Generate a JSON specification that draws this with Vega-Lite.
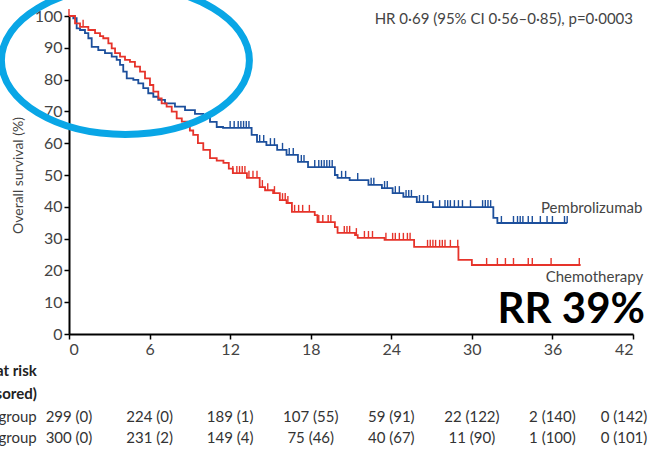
{
  "$schema": "https://vega.github.io/schema/vega-lite/v6.json",
  "width": 564,
  "height": 318,
  "autosize": {"type": "none"},
  "padding": {"left": 69, "top": 16, "right": 25, "bottom": 115},
  "background": "white",
  "config": {
    "view": {"stroke": null},
    "font": "Lato",
    "axis": {
      "domainColor": "#000000",
      "domainWidth": 2,
      "tickColor": "#000000",
      "tickWidth": 1.5,
      "tickSize": 5,
      "labelFont": "Lato",
      "labelFontSize": 16,
      "labelColor": "#444444",
      "labelOverlap": false,
      "grid": false,
      "titleFont": "Lato",
      "titleFontSize": 14,
      "titleFontWeight": "normal",
      "titleColor": "#444444"
    }
  },
  "datasets": {
    "curves": [
      {"arm": "Pembrolizumab", "time": 0, "surv": 100},
      {"arm": "Pembrolizumab", "time": 0.32, "surv": 99.3},
      {"arm": "Pembrolizumab", "time": 0.57, "surv": 96.1},
      {"arm": "Pembrolizumab", "time": 0.82, "surv": 95.6},
      {"arm": "Pembrolizumab", "time": 1.19, "surv": 94.6},
      {"arm": "Pembrolizumab", "time": 1.44, "surv": 93.0},
      {"arm": "Pembrolizumab", "time": 1.69, "surv": 90.3},
      {"arm": "Pembrolizumab", "time": 2.18, "surv": 89.3},
      {"arm": "Pembrolizumab", "time": 2.68, "surv": 88.3},
      {"arm": "Pembrolizumab", "time": 3.18, "surv": 87.2},
      {"arm": "Pembrolizumab", "time": 3.55, "surv": 86.2},
      {"arm": "Pembrolizumab", "time": 3.8, "surv": 84.6},
      {"arm": "Pembrolizumab", "time": 4.04, "surv": 82.5},
      {"arm": "Pembrolizumab", "time": 4.3, "surv": 80.4},
      {"arm": "Pembrolizumab", "time": 4.79, "surv": 79.9},
      {"arm": "Pembrolizumab", "time": 5.16, "surv": 78.8},
      {"arm": "Pembrolizumab", "time": 5.53, "surv": 77.3},
      {"arm": "Pembrolizumab", "time": 5.9, "surv": 75.7},
      {"arm": "Pembrolizumab", "time": 6.28, "surv": 74.6},
      {"arm": "Pembrolizumab", "time": 6.65, "surv": 73.6},
      {"arm": "Pembrolizumab", "time": 7.15, "surv": 72.5},
      {"arm": "Pembrolizumab", "time": 7.89, "surv": 71.5},
      {"arm": "Pembrolizumab", "time": 8.64, "surv": 70.4},
      {"arm": "Pembrolizumab", "time": 9.38, "surv": 69.2},
      {"arm": "Pembrolizumab", "time": 10.0, "surv": 68.0},
      {"arm": "Pembrolizumab", "time": 10.5, "surv": 66.7},
      {"arm": "Pembrolizumab", "time": 11.0, "surv": 65.1},
      {"arm": "Pembrolizumab", "time": 11.47, "surv": 64.8},
      {"arm": "Pembrolizumab", "time": 13.6, "surv": 62.6},
      {"arm": "Pembrolizumab", "time": 14.0, "surv": 60.4},
      {"arm": "Pembrolizumab", "time": 14.7, "surv": 59.4},
      {"arm": "Pembrolizumab", "time": 15.5, "surv": 57.9},
      {"arm": "Pembrolizumab", "time": 16.2, "surv": 56.3},
      {"arm": "Pembrolizumab", "time": 17.05, "surv": 54.1},
      {"arm": "Pembrolizumab", "time": 17.8, "surv": 52.5},
      {"arm": "Pembrolizumab", "time": 19.8, "surv": 50.0},
      {"arm": "Pembrolizumab", "time": 20.0, "surv": 49.1},
      {"arm": "Pembrolizumab", "time": 20.9, "surv": 48.4},
      {"arm": "Pembrolizumab", "time": 22.3, "surv": 46.9},
      {"arm": "Pembrolizumab", "time": 23.3, "surv": 45.9},
      {"arm": "Pembrolizumab", "time": 24.1, "surv": 44.3},
      {"arm": "Pembrolizumab", "time": 24.9, "surv": 43.1},
      {"arm": "Pembrolizumab", "time": 25.9, "surv": 41.5},
      {"arm": "Pembrolizumab", "time": 27.1, "surv": 39.9},
      {"arm": "Pembrolizumab", "time": 31.6, "surv": 36.5},
      {"arm": "Pembrolizumab", "time": 31.9, "surv": 34.9},
      {"arm": "Pembrolizumab", "time": 37.1, "surv": 34.9},
      {"arm": "Chemotherapy", "time": 0, "surv": 100},
      {"arm": "Chemotherapy", "time": 0.45, "surv": 97.7},
      {"arm": "Chemotherapy", "time": 0.82, "surv": 96.6},
      {"arm": "Chemotherapy", "time": 1.44, "surv": 95.6},
      {"arm": "Chemotherapy", "time": 1.94, "surv": 94.6},
      {"arm": "Chemotherapy", "time": 2.31, "surv": 93.7},
      {"arm": "Chemotherapy", "time": 2.55, "surv": 93.0},
      {"arm": "Chemotherapy", "time": 2.93, "surv": 91.4},
      {"arm": "Chemotherapy", "time": 3.18, "surv": 89.8},
      {"arm": "Chemotherapy", "time": 3.43, "surv": 88.3},
      {"arm": "Chemotherapy", "time": 3.8, "surv": 87.2},
      {"arm": "Chemotherapy", "time": 4.17, "surv": 86.2},
      {"arm": "Chemotherapy", "time": 4.54, "surv": 85.6},
      {"arm": "Chemotherapy", "time": 4.91, "surv": 84.1},
      {"arm": "Chemotherapy", "time": 5.29, "surv": 82.5},
      {"arm": "Chemotherapy", "time": 5.66, "surv": 80.4},
      {"arm": "Chemotherapy", "time": 6.03, "surv": 78.3},
      {"arm": "Chemotherapy", "time": 6.28, "surv": 76.2},
      {"arm": "Chemotherapy", "time": 6.65, "surv": 74.1},
      {"arm": "Chemotherapy", "time": 6.9, "surv": 72.5},
      {"arm": "Chemotherapy", "time": 7.27, "surv": 71.5},
      {"arm": "Chemotherapy", "time": 7.65, "surv": 69.9},
      {"arm": "Chemotherapy", "time": 8.02, "surv": 67.8},
      {"arm": "Chemotherapy", "time": 8.4, "surv": 66.8},
      {"arm": "Chemotherapy", "time": 8.8, "surv": 66.0},
      {"arm": "Chemotherapy", "time": 9.0, "surv": 64.0},
      {"arm": "Chemotherapy", "time": 9.25, "surv": 62.6},
      {"arm": "Chemotherapy", "time": 9.6, "surv": 60.0},
      {"arm": "Chemotherapy", "time": 10.0, "surv": 57.9},
      {"arm": "Chemotherapy", "time": 10.5, "surv": 55.3},
      {"arm": "Chemotherapy", "time": 11.0, "surv": 54.5},
      {"arm": "Chemotherapy", "time": 11.5, "surv": 53.8},
      {"arm": "Chemotherapy", "time": 11.9, "surv": 52.0},
      {"arm": "Chemotherapy", "time": 12.2, "surv": 50.6},
      {"arm": "Chemotherapy", "time": 13.25, "surv": 49.1},
      {"arm": "Chemotherapy", "time": 14.2, "surv": 46.2},
      {"arm": "Chemotherapy", "time": 14.6, "surv": 45.2},
      {"arm": "Chemotherapy", "time": 15.2, "surv": 44.3},
      {"arm": "Chemotherapy", "time": 15.7, "surv": 42.1},
      {"arm": "Chemotherapy", "time": 16.2, "surv": 41.2},
      {"arm": "Chemotherapy", "time": 16.6, "surv": 38.4},
      {"arm": "Chemotherapy", "time": 18.3, "surv": 37.4},
      {"arm": "Chemotherapy", "time": 18.5, "surv": 35.2},
      {"arm": "Chemotherapy", "time": 19.8, "surv": 33.6},
      {"arm": "Chemotherapy", "time": 20.0, "surv": 31.8},
      {"arm": "Chemotherapy", "time": 21.3, "surv": 31.1},
      {"arm": "Chemotherapy", "time": 21.5, "surv": 30.2},
      {"arm": "Chemotherapy", "time": 23.5, "surv": 29.6},
      {"arm": "Chemotherapy", "time": 25.7, "surv": 27.4},
      {"arm": "Chemotherapy", "time": 29.0, "surv": 23.3},
      {"arm": "Chemotherapy", "time": 30.0, "surv": 21.7},
      {"arm": "Chemotherapy", "time": 38.1, "surv": 21.7}
    ],
    "censors": [
      {"arm": "Pembrolizumab", "time": 12.0, "surv": 64.8},
      {"arm": "Pembrolizumab", "time": 12.3, "surv": 64.8},
      {"arm": "Pembrolizumab", "time": 12.6, "surv": 64.8},
      {"arm": "Pembrolizumab", "time": 12.8, "surv": 64.8},
      {"arm": "Pembrolizumab", "time": 13.0, "surv": 64.8},
      {"arm": "Pembrolizumab", "time": 13.2, "surv": 64.8},
      {"arm": "Pembrolizumab", "time": 13.4, "surv": 64.8},
      {"arm": "Pembrolizumab", "time": 14.2, "surv": 60.4},
      {"arm": "Pembrolizumab", "time": 14.5, "surv": 60.4},
      {"arm": "Pembrolizumab", "time": 15.0, "surv": 59.4},
      {"arm": "Pembrolizumab", "time": 15.3, "surv": 59.4},
      {"arm": "Pembrolizumab", "time": 15.9, "surv": 57.9},
      {"arm": "Pembrolizumab", "time": 16.4, "surv": 56.3},
      {"arm": "Pembrolizumab", "time": 16.7, "surv": 56.3},
      {"arm": "Pembrolizumab", "time": 17.3, "surv": 54.1},
      {"arm": "Pembrolizumab", "time": 17.5, "surv": 54.1},
      {"arm": "Pembrolizumab", "time": 18.3, "surv": 52.5},
      {"arm": "Pembrolizumab", "time": 18.6, "surv": 52.5},
      {"arm": "Pembrolizumab", "time": 18.8, "surv": 52.5},
      {"arm": "Pembrolizumab", "time": 19.0, "surv": 52.5},
      {"arm": "Pembrolizumab", "time": 19.2, "surv": 52.5},
      {"arm": "Pembrolizumab", "time": 19.4, "surv": 52.5},
      {"arm": "Pembrolizumab", "time": 19.6, "surv": 52.5},
      {"arm": "Pembrolizumab", "time": 20.3, "surv": 49.1},
      {"arm": "Pembrolizumab", "time": 20.6, "surv": 49.1},
      {"arm": "Pembrolizumab", "time": 21.5, "surv": 48.4},
      {"arm": "Pembrolizumab", "time": 22.5, "surv": 46.9},
      {"arm": "Pembrolizumab", "time": 22.7, "surv": 46.9},
      {"arm": "Pembrolizumab", "time": 23.5, "surv": 45.9},
      {"arm": "Pembrolizumab", "time": 23.7, "surv": 45.9},
      {"arm": "Pembrolizumab", "time": 24.3, "surv": 44.3},
      {"arm": "Pembrolizumab", "time": 24.6, "surv": 44.3},
      {"arm": "Pembrolizumab", "time": 25.1, "surv": 43.1},
      {"arm": "Pembrolizumab", "time": 25.3, "surv": 43.1},
      {"arm": "Pembrolizumab", "time": 25.5, "surv": 43.1},
      {"arm": "Pembrolizumab", "time": 26.1, "surv": 41.5},
      {"arm": "Pembrolizumab", "time": 26.4, "surv": 41.5},
      {"arm": "Pembrolizumab", "time": 26.7, "surv": 41.5},
      {"arm": "Pembrolizumab", "time": 27.6, "surv": 39.9},
      {"arm": "Pembrolizumab", "time": 28.0, "surv": 39.9},
      {"arm": "Pembrolizumab", "time": 28.2, "surv": 39.9},
      {"arm": "Pembrolizumab", "time": 28.4, "surv": 39.9},
      {"arm": "Pembrolizumab", "time": 28.7, "surv": 39.9},
      {"arm": "Pembrolizumab", "time": 29.0, "surv": 39.9},
      {"arm": "Pembrolizumab", "time": 29.3, "surv": 39.9},
      {"arm": "Pembrolizumab", "time": 29.9, "surv": 39.9},
      {"arm": "Pembrolizumab", "time": 30.8, "surv": 39.9},
      {"arm": "Pembrolizumab", "time": 31.0, "surv": 39.9},
      {"arm": "Pembrolizumab", "time": 31.2, "surv": 39.9},
      {"arm": "Pembrolizumab", "time": 31.4, "surv": 39.9},
      {"arm": "Pembrolizumab", "time": 32.2, "surv": 34.9},
      {"arm": "Pembrolizumab", "time": 33.1, "surv": 34.9},
      {"arm": "Pembrolizumab", "time": 33.4, "surv": 34.9},
      {"arm": "Pembrolizumab", "time": 33.6, "surv": 34.9},
      {"arm": "Pembrolizumab", "time": 33.8, "surv": 34.9},
      {"arm": "Pembrolizumab", "time": 34.2, "surv": 34.9},
      {"arm": "Pembrolizumab", "time": 34.5, "surv": 34.9},
      {"arm": "Pembrolizumab", "time": 35.1, "surv": 34.9},
      {"arm": "Pembrolizumab", "time": 35.6, "surv": 34.9},
      {"arm": "Pembrolizumab", "time": 36.0, "surv": 34.9},
      {"arm": "Pembrolizumab", "time": 36.9, "surv": 34.9},
      {"arm": "Pembrolizumab", "time": 37.1, "surv": 34.9},
      {"arm": "Chemotherapy", "time": 0.0, "surv": 100},
      {"arm": "Chemotherapy", "time": 1.05, "surv": 96.6},
      {"arm": "Chemotherapy", "time": 12.2, "surv": 50.6},
      {"arm": "Chemotherapy", "time": 12.5, "surv": 50.6},
      {"arm": "Chemotherapy", "time": 12.7, "surv": 50.6},
      {"arm": "Chemotherapy", "time": 12.9, "surv": 50.6},
      {"arm": "Chemotherapy", "time": 13.1, "surv": 50.6},
      {"arm": "Chemotherapy", "time": 13.4, "surv": 49.1},
      {"arm": "Chemotherapy", "time": 13.7, "surv": 49.1},
      {"arm": "Chemotherapy", "time": 14.0, "surv": 49.1},
      {"arm": "Chemotherapy", "time": 14.4, "surv": 46.2},
      {"arm": "Chemotherapy", "time": 14.8, "surv": 45.2},
      {"arm": "Chemotherapy", "time": 15.3, "surv": 44.3},
      {"arm": "Chemotherapy", "time": 15.9, "surv": 42.1},
      {"arm": "Chemotherapy", "time": 16.1, "surv": 42.1},
      {"arm": "Chemotherapy", "time": 16.3, "surv": 41.2},
      {"arm": "Chemotherapy", "time": 16.8, "surv": 38.4},
      {"arm": "Chemotherapy", "time": 17.1, "surv": 38.4},
      {"arm": "Chemotherapy", "time": 17.4, "surv": 38.4},
      {"arm": "Chemotherapy", "time": 17.9, "surv": 38.4},
      {"arm": "Chemotherapy", "time": 18.6, "surv": 35.2},
      {"arm": "Chemotherapy", "time": 18.9, "surv": 35.2},
      {"arm": "Chemotherapy", "time": 19.3, "surv": 35.2},
      {"arm": "Chemotherapy", "time": 19.5, "surv": 35.2},
      {"arm": "Chemotherapy", "time": 20.5, "surv": 31.8},
      {"arm": "Chemotherapy", "time": 20.7, "surv": 31.8},
      {"arm": "Chemotherapy", "time": 20.9, "surv": 31.8},
      {"arm": "Chemotherapy", "time": 21.4, "surv": 31.1},
      {"arm": "Chemotherapy", "time": 22.0, "surv": 30.2},
      {"arm": "Chemotherapy", "time": 22.3, "surv": 30.2},
      {"arm": "Chemotherapy", "time": 22.6, "surv": 30.2},
      {"arm": "Chemotherapy", "time": 23.6, "surv": 29.6},
      {"arm": "Chemotherapy", "time": 24.1, "surv": 29.6},
      {"arm": "Chemotherapy", "time": 24.3, "surv": 29.6},
      {"arm": "Chemotherapy", "time": 24.6, "surv": 29.6},
      {"arm": "Chemotherapy", "time": 24.9, "surv": 29.6},
      {"arm": "Chemotherapy", "time": 25.2, "surv": 29.6},
      {"arm": "Chemotherapy", "time": 25.4, "surv": 29.6},
      {"arm": "Chemotherapy", "time": 26.7, "surv": 27.4},
      {"arm": "Chemotherapy", "time": 26.9, "surv": 27.4},
      {"arm": "Chemotherapy", "time": 27.1, "surv": 27.4},
      {"arm": "Chemotherapy", "time": 27.3, "surv": 27.4},
      {"arm": "Chemotherapy", "time": 27.6, "surv": 27.4},
      {"arm": "Chemotherapy", "time": 27.8, "surv": 27.4},
      {"arm": "Chemotherapy", "time": 28.0, "surv": 27.4},
      {"arm": "Chemotherapy", "time": 28.4, "surv": 27.4},
      {"arm": "Chemotherapy", "time": 28.95, "surv": 27.4},
      {"arm": "Chemotherapy", "time": 31.1, "surv": 21.7},
      {"arm": "Chemotherapy", "time": 31.9, "surv": 21.7},
      {"arm": "Chemotherapy", "time": 32.5, "surv": 21.7},
      {"arm": "Chemotherapy", "time": 33.1, "surv": 21.7},
      {"arm": "Chemotherapy", "time": 34.2, "surv": 21.7},
      {"arm": "Chemotherapy", "time": 34.5, "surv": 21.7},
      {"arm": "Chemotherapy", "time": 35.9, "surv": 21.7},
      {"arm": "Chemotherapy", "time": 38.0, "surv": 21.7}
    ],
    "risk": [
      {"row": "Pembrolizumab group", "time": 0, "label": "299 (0)"},
      {"row": "Pembrolizumab group", "time": 6, "label": "224 (0)"},
      {"row": "Pembrolizumab group", "time": 12, "label": "189 (1)"},
      {"row": "Pembrolizumab group", "time": 18, "label": "107 (55)"},
      {"row": "Pembrolizumab group", "time": 24, "label": "59 (91)"},
      {"row": "Pembrolizumab group", "time": 30, "label": "22 (122)"},
      {"row": "Pembrolizumab group", "time": 36, "label": "2 (140)"},
      {"row": "Pembrolizumab group", "time": 42, "label": "0 (142)"},
      {"row": "Chemotherapy group", "time": 0, "label": "300 (0)"},
      {"row": "Chemotherapy group", "time": 6, "label": "231 (2)"},
      {"row": "Chemotherapy group", "time": 12, "label": "149 (4)"},
      {"row": "Chemotherapy group", "time": 18, "label": "75 (46)"},
      {"row": "Chemotherapy group", "time": 24, "label": "40 (67)"},
      {"row": "Chemotherapy group", "time": 30, "label": "11 (90)"},
      {"row": "Chemotherapy group", "time": 36, "label": "1 (100)"},
      {"row": "Chemotherapy group", "time": 42, "label": "0 (101)"}
    ]
  },
  "encoding": {
    "x": {
      "type": "quantitative",
      "scale": {"domain": [0, 42], "nice": false, "zero": false},
      "axis": {"values": [0, 6, 12, 18, 24, 30, 36, 42], "title": null, "labelPadding": 2}
    },
    "y": {
      "type": "quantitative",
      "scale": {"domain": [0, 100], "nice": false, "zero": false},
      "axis": {"values": [0, 10, 20, 30, 40, 50, 60, 70, 80, 90, 100], "tickCount": 11, "title": "Overall survival (%)", "titlePadding": 9, "labelPadding": 2}
    }
  },
  "layer": [
    {
      "data": {"name": "curves"},
      "mark": {"type": "line", "interpolate": "step-after", "strokeWidth": 1.8},
      "encoding": {
        "x": {"field": "time", "type": "quantitative"},
        "y": {"field": "surv", "type": "quantitative"},
        "color": {
          "field": "arm", "type": "nominal",
          "scale": {"domain": ["Pembrolizumab", "Chemotherapy"], "range": ["#1c4f9c", "#e6332a"]},
          "legend": null
        }
      }
    },
    {
      "data": {"name": "censors"},
      "mark": {"type": "tick", "orient": "vertical", "size": 7, "thickness": 1.4, "yOffset": -3.5, "opacity": 1},
      "encoding": {
        "x": {"field": "time", "type": "quantitative"},
        "y": {"field": "surv", "type": "quantitative"},
        "color": {"field": "arm", "type": "nominal", "legend": null}
      }
    },
    {
      "data": {"values": [{}]},
      "mark": {"type": "text", "text": "HR 0·69 (95% CI 0·56–0·85), p=0·0003", "align": "right", "baseline": "middle", "fontSize": 15, "color": "#444444"},
      "encoding": {"x": {"datum": 42}, "y": {"datum": 99}}
    },
    {
      "data": {"values": [{}]},
      "mark": {"type": "text", "text": "Pembrolizumab", "align": "left", "baseline": "middle", "fontSize": 15, "color": "#444444"},
      "encoding": {"x": {"datum": 35.15}, "y": {"datum": 39.6}}
    },
    {
      "data": {"values": [{}]},
      "mark": {"type": "text", "text": "Chemotherapy", "align": "left", "baseline": "middle", "fontSize": 15, "color": "#444444"},
      "encoding": {"x": {"datum": 35.5}, "y": {"datum": 17.9}}
    },
    {
      "data": {"values": [{}]},
      "mark": {"type": "text", "text": "RR 39%", "align": "center", "baseline": "middle", "fontSize": 42, "fontWeight": "bold", "color": "#000000"},
      "encoding": {"x": {"datum": 37.4}, "y": {"datum": 7.4}}
    },
    {
      "data": {"values": [{}]},
      "mark": {
        "type": "point",
        "shape": "M -1 0 A 1 0.597 0 1 1 1 0 A 1 0.597 0 1 1 -1 0 Z",
        "size": 61504,
        "filled": false,
        "stroke": "#09a6e6",
        "strokeWidth": 7,
        "opacity": 1
      },
      "encoding": {"x": {"datum": 4.2}, "y": {"datum": 86}}
    },
    {
      "data": {"values": [{"head": "Number at risk"}]},
      "mark": {"type": "text", "align": "right", "baseline": "middle", "fontSize": 15, "fontWeight": "bold", "color": "#222222"},
      "encoding": {"x": {"datum": -2.4}, "y": {"datum": -11.6}, "text": {"field": "head"}}
    },
    {
      "data": {"values": [{"head": "(number censored)"}]},
      "mark": {"type": "text", "align": "right", "baseline": "middle", "fontSize": 15, "fontWeight": "bold", "color": "#222222"},
      "encoding": {"x": {"datum": -2.4}, "y": {"datum": -18.8}, "text": {"field": "head"}}
    },
    {
      "data": {"name": "risk"},
      "transform": [{"filter": "datum.row == 'Pembrolizumab group'"}, {"aggregate": [{"op": "count", "as": "n"}], "groupby": ["row"]}],
      "mark": {"type": "text", "align": "right", "baseline": "middle", "fontSize": 15, "color": "#333333"},
      "encoding": {"x": {"datum": -2.4}, "y": {"datum": -26.1}, "text": {"field": "row"}}
    },
    {
      "data": {"name": "risk"},
      "transform": [{"filter": "datum.row == 'Chemotherapy group'"}, {"aggregate": [{"op": "count", "as": "n"}], "groupby": ["row"]}],
      "mark": {"type": "text", "align": "right", "baseline": "middle", "fontSize": 15, "color": "#333333"},
      "encoding": {"x": {"datum": -2.4}, "y": {"datum": -32.6}, "text": {"field": "row"}}
    },
    {
      "data": {"name": "risk"},
      "transform": [{"filter": "datum.row == 'Pembrolizumab group' && datum.time < 42"}],
      "mark": {"type": "text", "align": "center", "baseline": "middle", "fontSize": 15, "color": "#333333"},
      "encoding": {"x": {"field": "time", "type": "quantitative"}, "y": {"datum": -26.1}, "text": {"field": "label"}}
    },
    {
      "data": {"name": "risk"},
      "transform": [{"filter": "datum.row == 'Chemotherapy group' && datum.time < 42"}],
      "mark": {"type": "text", "align": "center", "baseline": "middle", "fontSize": 15, "color": "#333333"},
      "encoding": {"x": {"field": "time", "type": "quantitative"}, "y": {"datum": -32.6}, "text": {"field": "label"}}
    },
    {
      "data": {"name": "risk"},
      "transform": [{"filter": "datum.row == 'Pembrolizumab group' && datum.time == 42"}],
      "mark": {"type": "text", "align": "center", "baseline": "middle", "fontSize": 15, "color": "#333333", "dx": -9},
      "encoding": {"x": {"field": "time", "type": "quantitative"}, "y": {"datum": -26.1}, "text": {"field": "label"}}
    },
    {
      "data": {"name": "risk"},
      "transform": [{"filter": "datum.row == 'Chemotherapy group' && datum.time == 42"}],
      "mark": {"type": "text", "align": "center", "baseline": "middle", "fontSize": 15, "color": "#333333", "dx": -9},
      "encoding": {"x": {"field": "time", "type": "quantitative"}, "y": {"datum": -32.6}, "text": {"field": "label"}}
    }
  ]
}
